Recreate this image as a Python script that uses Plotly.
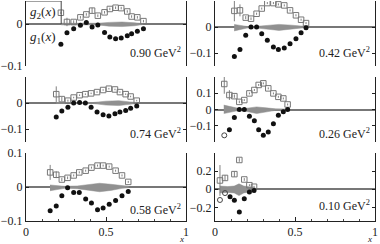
import plotly.graph_objects as go

# ---------------- data ----------------
q2_labels = ["0.90 GeV<sup>2</sup>", "0.42 GeV<sup>2</sup>", "0.74 GeV<sup>2</sup>",
             "0.26 GeV<sup>2</sup>", "0.58 GeV<sup>2</sup>", "0.10 GeV<sup>2</sup>"]

# Q2 = 0.90
x_090 = [0.218, 0.256, 0.298, 0.340, 0.377, 0.413, 0.449, 0.491, 0.524, 0.560, 0.595, 0.633, 0.660, 0.696, 0.734]
g2_090 = [0.027, 0.005, 0.005, 0.016, 0.023, 0.032, 0.020, 0.028, 0.036, 0.039, 0.038, 0.030, 0.018, 0.016, 0.007]
g2e_090 = [0.003, 0.010, 0.004, 0.003, 0.003, 0.007, 0.003, 0.003, 0.003, 0.003, 0.003, 0.003, 0.003, 0.003, 0.003]
g1_090 = [-0.048, -0.021, -0.011, -0.003, 0.004, -0.007, -0.002, -0.020, -0.031, -0.035, -0.033, -0.028, -0.023, -0.017, -0.011]
bx_090 = [0.22, 0.30, 0.40, 0.45, 0.52, 0.60, 0.68, 0.73]
bhi_090 = [0.002, 0.002, 0.002, 0.002, 0.004, 0.005, 0.003, 0.001]
blo_090 = [-0.002, -0.002, -0.002, -0.002, -0.005, -0.006, -0.004, -0.001]

# Q2 = 0.42
x_042 = [0.121, 0.156, 0.192, 0.225, 0.260, 0.292, 0.327, 0.365, 0.396, 0.433, 0.469, 0.506, 0.538, 0.569]
g2_042 = [0.062, 0.064, 0.036, 0.032, 0.051, 0.071, 0.092, 0.092, 0.087, 0.083, 0.064, 0.045, 0.028, 0.015]
g2e_042 = [0.040, 0.023, 0.006, 0.005, 0.004, 0.004, 0.004, 0.004, 0.004, 0.004, 0.004, 0.004, 0.004, 0.004]
g1_042 = [-0.113, -0.087, -0.032, 0.0, 0.0, -0.026, -0.051, -0.077, -0.087, -0.081, -0.064, -0.045, -0.022, -0.003]
bx_042 = [0.12, 0.16, 0.20, 0.25, 0.32, 0.40, 0.48, 0.54, 0.57]
bhi_042 = [0.010, 0.006, 0.002, 0.002, 0.006, 0.010, 0.007, 0.003, 0.002]
blo_042 = [-0.015, -0.010, -0.004, -0.003, -0.008, -0.013, -0.010, -0.004, -0.002]

# Q2 = 0.74
x_074 = [0.189, 0.224, 0.262, 0.298, 0.335, 0.371, 0.407, 0.444, 0.482, 0.518, 0.556, 0.587, 0.623, 0.654, 0.692]
g2_074 = [0.034, 0.015, 0.009, 0.021, 0.030, 0.034, 0.037, 0.042, 0.050, 0.055, 0.052, 0.042, 0.034, 0.025, 0.009]
g2e_074 = [0.030, 0.008, 0.004, 0.003, 0.003, 0.003, 0.003, 0.003, 0.003, 0.003, 0.003, 0.003, 0.003, 0.003, 0.003]
g1_074 = [-0.054, -0.031, -0.016, 0.0, 0.002, 0.0, -0.016, -0.035, -0.045, -0.050, -0.041, -0.035, -0.029, -0.020, -0.012]
bx_074 = [0.19, 0.30, 0.42, 0.50, 0.58, 0.65, 0.69]
bhi_074 = [0.002, 0.002, 0.002, 0.007, 0.009, 0.004, 0.002]
blo_074 = [-0.002, -0.002, -0.002, -0.008, -0.010, -0.005, -0.002]

# Q2 = 0.26
x_026 = [0.058, 0.090, 0.121, 0.152, 0.183, 0.215, 0.246, 0.273, 0.302, 0.333, 0.365, 0.396, 0.427, 0.454]
g2_026 = [0.157, 0.089, 0.082, 0.047, 0.058, 0.099, 0.120, 0.151, 0.161, 0.130, 0.099, 0.078, 0.068, 0.031]
g2e_026 = [0.060, 0.030, 0.010, 0.008, 0.006, 0.006, 0.006, 0.006, 0.006, 0.006, 0.006, 0.006, 0.006, 0.006]
g1_026 = [-0.159, -0.124, -0.049, 0.0, 0.0, -0.041, -0.070, -0.124, -0.159, -0.138, -0.087, -0.035, -0.014, 0.0]
open_026 = [True] + [False] * 13
bx_026 = [0.055, 0.09, 0.13, 0.16, 0.20, 0.26, 0.32, 0.38, 0.45]
bhi_026 = [0.027, 0.020, 0.008, 0.004, 0.008, 0.016, 0.010, 0.004, 0.003]
blo_026 = [-0.025, -0.020, -0.010, -0.005, -0.012, -0.025, -0.015, -0.005, -0.003]

# Q2 = 0.58
x_058 = [0.151, 0.189, 0.224, 0.260, 0.298, 0.333, 0.373, 0.409, 0.447, 0.482, 0.520, 0.560, 0.600, 0.639]
g2_058 = [0.043, 0.036, 0.022, 0.027, 0.034, 0.043, 0.048, 0.057, 0.063, 0.063, 0.060, 0.048, 0.034, 0.015]
g2e_058 = [0.022, 0.010, 0.005, 0.004, 0.003, 0.003, 0.003, 0.003, 0.003, 0.003, 0.003, 0.003, 0.003, 0.003]
g1_058 = [-0.070, -0.056, -0.026, -0.002, -0.016, -0.016, -0.035, -0.047, -0.067, -0.062, -0.051, -0.040, -0.026, -0.013]
bx_058 = [0.15, 0.19, 0.24, 0.32, 0.40, 0.46, 0.53, 0.60, 0.64]
bhi_058 = [0.006, 0.004, 0.002, 0.003, 0.008, 0.011, 0.008, 0.003, 0.002]
blo_058 = [-0.011, -0.008, -0.004, -0.005, -0.010, -0.014, -0.010, -0.004, -0.002]

# Q2 = 0.10
x_010 = [0.031, 0.0625, 0.094, 0.121, 0.152, 0.183, 0.215, 0.244]
g2_010 = [0.097, 0.125, None, 0.167, 0.323, 0.108, 0.045, 0.028]
g2e_010 = [0.170, 0.030, 0.0, 0.030, 0.020, 0.015, 0.010, 0.010]
g1_010 = [-0.118, -0.042, -0.083, -0.122, -0.250, -0.104, -0.031, -0.014]
open_010 = [True, True, False, False, False, False, False, False]
bx_010 = [0.03, 0.08, 0.12, 0.15, 0.18, 0.22, 0.25]
bhi_010 = [0.035, 0.030, 0.035, 0.060, 0.035, 0.025, 0.020]
blo_010 = [-0.040, -0.035, -0.040, -0.070, -0.040, -0.030, -0.020]

yranges = [[-0.1, 0.055], [-0.15, 0.1], [-0.15, 0.1], [-0.2, 0.2], [-0.1, 0.1], [-0.35, 0.4]]
yticks = [[-0.1, 0], [-0.1, 0], [-0.1, 0], [-0.1, 0, 0.1], [-0.1, 0, 0.1], [-0.2, 0, 0.2]]
yticktext = [["\u22120.1", "0"], ["\u22120.1", "0"], ["\u22120.1", "0"],
             ["\u22120.1", "0", "0.1"], ["\u22120.1", "0", "0.1"], ["\u22120.2", "0", "0.2"]]
xticks = [0, 0.5, 1]
xticktext = ["0", "0.5", "1"]

panels = [
    (x_090, g1_090, g2_090, g2e_090, None, bx_090, blo_090, bhi_090),
    (x_042, g1_042, g2_042, g2e_042, None, bx_042, blo_042, bhi_042),
    (x_074, g1_074, g2_074, g2e_074, None, bx_074, blo_074, bhi_074),
    (x_026, g1_026, g2_026, g2e_026, open_026, bx_026, blo_026, bhi_026),
    (x_058, g1_058, g2_058, g2e_058, None, bx_058, blo_058, bhi_058),
    (x_010, g1_010, g2_010, g2e_010, open_010, bx_010, blo_010, bhi_010),
]

# ---------------- layout geometry ----------------
W, H = 380, 244
xdoms = [[26 / W, 186 / W], [215 / W, 375 / W]]
rows_px = [(1, 66), (77, 142), (153, 221)]
ydoms = [[1 - b / H, 1 - t / H] for (t, b) in rows_px]

SERIF = "Liberation Serif, Times New Roman, serif"
fig = go.Figure()
layout = dict(width=W, height=H, margin=dict(l=0, r=0, t=0, b=0, autoexpand=False),
              paper_bgcolor="white", plot_bgcolor="white", showlegend=False,
              font=dict(family=SERIF, size=12, color="#222"))

annotations = []
shapes = []
for i, (xs, g1, g2, g2e, opn, bx, blo, bhi) in enumerate(panels):
    r, c = i // 2, i % 2
    sx = "" if i == 0 else str(i + 1)
    xa, ya = "x" + sx, "y" + sx
    # band
    fig.add_trace(go.Scatter(x=bx + bx[::-1], y=bhi + blo[::-1], fill="toself",
                             fillcolor="#909090", line=dict(width=0.5, color="#909090"),
                             mode="lines", xaxis=xa, yaxis=ya, hoverinfo="skip"))
    # g2
    fig.add_trace(go.Scatter(x=xs, y=g2, mode="markers", xaxis=xa, yaxis=ya,
                             error_y=dict(type="data", array=g2e, color="#808080",
                                          thickness=1, width=0),
                             marker=dict(symbol="square-open", size=5.5, color="#777",
                                         line=dict(width=1, color="#777"))))
    # g1
    if opn is None:
        opn = [False] * len(xs)
    fx = [x for x, o in zip(xs, opn) if not o]
    fy = [y for y, o in zip(g1, opn) if not o]
    ox = [x for x, o in zip(xs, opn) if o]
    oy = [y for y, o in zip(g1, opn) if o]
    fig.add_trace(go.Scatter(x=fx, y=fy, mode="markers", xaxis=xa, yaxis=ya,
                             marker=dict(symbol="circle", size=5, color="#111")))
    if ox:
        fig.add_trace(go.Scatter(x=ox, y=oy, mode="markers", xaxis=xa, yaxis=ya,
                                 marker=dict(symbol="circle-open", size=5, color="#444",
                                             line=dict(width=1, color="#444"))))
    key = "xaxis" + sx
    keyy = "yaxis" + sx
    bottom = (r == 2)
    xd = dict(domain=xdoms[c], range=[0, 1], anchor=ya, automargin=False,
              showgrid=False, zeroline=False, visible=bottom)
    if bottom:
        xd.update(showline=True, linecolor="#222", linewidth=1,
                  ticks="inside", ticklen=4, tickcolor="#222",
                  tickvals=xticks, ticktext=xticktext,
                  tickfont=dict(family=SERIF, size=12, color="#222"),
                  minor=dict(dtick=0.1, ticks="inside", ticklen=2, tickcolor="#444"))
    layout[key] = xd
    layout[keyy] = dict(domain=ydoms[r], range=yranges[i], anchor=xa, automargin=False,
                        showgrid=False, showline=True, linecolor="#222", linewidth=1,
                        mirror="ticks", ticks="inside", ticklen=3, tickcolor="#222",
                        tickvals=yticks[i], ticktext=yticktext[i],
                        tickfont=dict(family=SERIF, size=12, color="#222"),
                        zeroline=True, zerolinecolor="#777", zerolinewidth=1.5)
    # Q2 label
    ylab = {0: 53, 1: 53, 2: 133, 3: 133, 4: 209, 5: 205}[i]
    annotations.append(dict(text=q2_labels[i], xref="paper", yref="paper",
                            x=xdoms[c][1] - 3 / W, y=1 - ylab / H, xanchor="right",
                            yanchor="middle", showarrow=False,
                            font=dict(family=SERIF, size=12, color="#222")))
    if bottom:
        annotations.append(dict(text="<i>x</i>", xref="paper", yref="paper",
                                x=xdoms[c][1] - 5 / W, y=1 - 239 / H, xanchor="center",
                                yanchor="middle", showarrow=False,
                                font=dict(family=SERIF, size=9, color="#222")))

# legend-like box and labels in first panel
shapes.append(dict(type="path", xref="x domain", yref="y",
                   path="M 0 0.055 L 0.22 0.055 L 0.22 0", line=dict(color="#444", width=1)))
annotations.append(dict(text="<i>g</i><sub>2</sub>(<i>x</i>)", xref="paper", yref="paper",
                        x=28 / W, y=1 - 12 / H, xanchor="left", yanchor="middle",
                        showarrow=False, font=dict(family=SERIF, size=13, color="#222")))
annotations.append(dict(text="<i>g</i><sub>1</sub>(<i>x</i>)", xref="paper", yref="paper",
                        x=28 / W, y=1 - 37 / H, xanchor="left", yanchor="middle",
                        showarrow=False, font=dict(family=SERIF, size=13, color="#222")))

layout["annotations"] = annotations
layout["shapes"] = shapes
fig.update_layout(**layout)
fig.write_html("out.html", config={"displayModeBar": False},
               post_script="document.documentElement.style.margin='0';"
                           "document.body.style.margin='0';document.body.style.padding='0';")
